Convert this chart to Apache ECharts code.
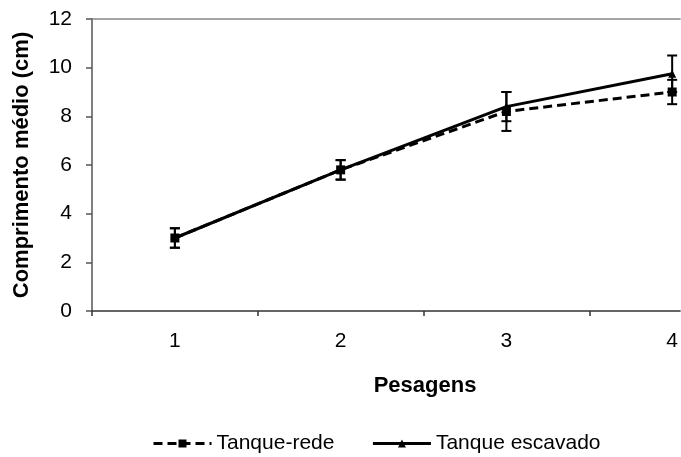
<!DOCTYPE html>
<html>
<head>
<meta charset="utf-8">
<script src="https://cdn.jsdelivr.net/npm/echarts@6/dist/echarts.min.js"></script>
<style>html,body{margin:0;padding:0;background:#fff;}#c{width:681px;height:457px;}</style>
</head>
<body>
<div id="c"></div>
<script>
var categories = ['1', '2', '3', '4'];
var yTicks = [0, 2, 4, 6, 8, 10, 12];
var redeValues = [3.0, 5.8, 8.2, 9.0];
var redeErrors = [0.4, 0.4, 0.8, 0.5];
var escValues = [3.0, 5.8, 8.4, 9.75];
var escErrors = [0.4, 0.4, 0.6, 0.75];

var xPos = categories.map(Number);
var xBoundaries = xPos.map(function (x) { return x - 0.5; });
function pts(vals) { return vals.map(function (v, i) { return [xPos[i], v]; }); }
function errData(vals, errs) {
  return vals.map(function (v, i) { return [xPos[i], v - errs[i], v + errs[i]]; });
}
function renderErr(params, api) {
  var x = api.value(0);
  var lo = api.coord([x, api.value(1)]);
  var hi = api.coord([x, api.value(2)]);
  var w = 5;
  var st = { stroke: '#000', lineWidth: 2 };
  return {
    type: 'group',
    children: [
      { type: 'line', shape: { x1: lo[0], y1: lo[1], x2: hi[0], y2: hi[1] }, style: st },
      { type: 'line', shape: { x1: lo[0] - w, y1: lo[1], x2: lo[0] + w, y2: lo[1] }, style: st },
      { type: 'line', shape: { x1: hi[0] - w, y1: hi[1], x2: hi[0] + w, y2: hi[1] }, style: st }
    ]
  };
}

var chart = echarts.init(document.getElementById('c'), null, { renderer: 'canvas' });
var font = 'Arial, "Liberation Sans", sans-serif';
chart.setOption({
  animation: false,
  backgroundColor: '#fff',
  textStyle: { fontFamily: font },
  grid: { left: 92, top: 19, right: 0, bottom: 146, containLabel: false },
  legend: {
    top: 428,
    left: 147,
    itemWidth: 58,
    itemHeight: 10,
    itemGap: 37,
    lineStyle: { width: 3 },
    textStyle: { color: '#000', fontSize: 21, fontFamily: font },
    data: ['Tanque-rede', 'Tanque escavado']
  },
  xAxis: [{
    type: 'value',
    min: 0.5,
    max: 4.048,
    name: 'Pesagens',
    nameLocation: 'middle',
    nameGap: 64,
    nameTextStyle: { color: '#000', fontSize: 22, fontWeight: 'bold', fontFamily: font, padding: [0, 0, 0, 78] },
    axisLine: { lineStyle: { color: '#333', width: 1.5 } },
    axisTick: { show: true, length: 5, customValues: xBoundaries, lineStyle: { color: '#333', width: 1.5 } },
    axisLabel: { color: '#000', fontSize: 21, margin: 20, fontFamily: font, customValues: xPos,
      formatter: function (v) { return categories[xPos.indexOf(v)] || ''; } },
    splitLine: { show: false }
  }, {
    type: 'value',
    min: 0.5,
    max: 4.048,
    position: 'top',
    axisLine: { lineStyle: { color: '#888', width: 1.5 } },
    axisTick: { show: false },
    axisLabel: { show: false },
    splitLine: { show: false }
  }],
  yAxis: {
    type: 'value',
    min: yTicks[0],
    max: yTicks[yTicks.length - 1],
    interval: 2,
    name: 'Comprimento médio (cm)',
    nameLocation: 'middle',
    nameGap: 59,
    nameTextStyle: { color: '#000', fontSize: 22, fontWeight: 'bold', fontFamily: font },
    axisLine: { show: true, lineStyle: { color: '#555', width: 1.5 } },
    axisTick: { show: true, length: 6, lineStyle: { color: '#555', width: 1.5 } },
    axisLabel: { color: '#000', fontSize: 21, margin: 20, fontFamily: font },
    splitLine: { show: false }
  },
  series: [{
    name: 'Tanque-rede',
    type: 'line',
    data: pts(redeValues),
    symbol: 'rect',
    symbolSize: 9,
    itemStyle: { color: '#000' },
    lineStyle: { color: '#000', width: 3, type: [9, 5] },
    clip: false,
    z: 3
  }, {
    name: 'Tanque escavado',
    type: 'line',
    data: pts(escValues),
    symbol: 'triangle',
    symbolSize: 8,
    itemStyle: { color: '#000' },
    lineStyle: { color: '#000', width: 3 },
    clip: false,
    z: 4
  }, {
    type: 'custom',
    renderItem: renderErr,
    data: errData(redeValues, redeErrors),
    encode: { x: 0, y: [1, 2] },
    clip: false,
    z: 5
  }, {
    type: 'custom',
    renderItem: renderErr,
    data: errData(escValues, escErrors),
    encode: { x: 0, y: [1, 2] },
    clip: false,
    z: 5
  }]
});
</script>
</body>
</html>
